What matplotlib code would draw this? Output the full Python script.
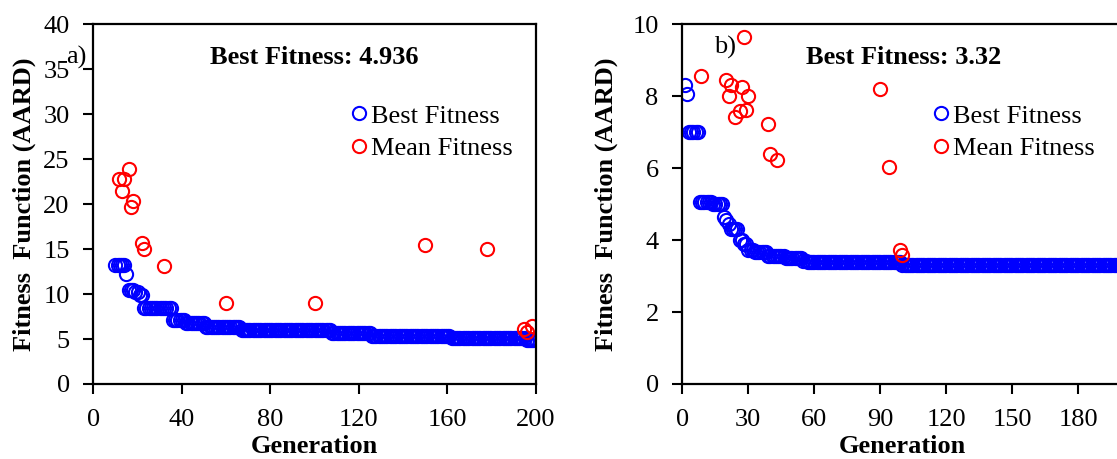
import numpy as np
import matplotlib
matplotlib.use("Agg")
import matplotlib.pyplot as plt

plt.rcParams['font.family'] = ['Liberation Serif', 'DejaVu Serif']

# ---------- Panel a) ----------
a_best_start_gen = 10
a_best_levels = [13.2, 12.2, 10.5, 10.2, 9.9, 8.4, 7.1, 6.8, 6.3, 5.95, 5.65, 5.35, 5.1, 4.936]
a_best_runs   = [5,    1,    3,    2,    2,   13,  6,   9,   16,  41,   18,   36,   34,  5]
a_mean_gen = [11.5, 13.8, 12.8, 16.2, 18.1, 17.0, 21.9, 22.8, 31.9, 60, 100, 150, 178, 194.8, 196, 198.4]
a_mean_val = [22.85, 22.85, 21.5, 23.95, 20.3, 19.67, 15.7, 14.97, 13.1, 9.0, 9.06, 15.5, 15.05, 6.17, 5.8, 6.4]
a_xticks = [0, 40, 80, 120, 160, 200]
a_yticks = [0, 5, 10, 15, 20, 25, 30, 35, 40]

# ---------- Panel b) ----------
b_best_start_gen = 1
b_best_levels = [8.3, 8.05, 7.0, 5.05, 5.0, 4.65, 4.55, 4.45, 4.3, 4.0, 3.88, 3.72, 3.68, 3.55, 3.5, 3.42, 3.38, 3.32]
b_best_runs   = [1,   1,    5,   6,    5,   1,    1,    1,    4,   2,   2,    3,    6,    8,    8,   2,    43,   116]
b_mean_gen = [8.3, 20, 22, 21, 27, 28, 30, 24, 26, 29, 39, 40, 43, 90, 94, 99, 100]
b_mean_val = [8.55, 8.46, 8.32, 8.0, 8.25, 9.64, 8.02, 7.41, 7.6, 7.62, 7.24, 6.4, 6.24, 8.2, 6.04, 3.72, 3.6]
b_xticks = [0, 30, 60, 90, 120, 150, 180]
b_yticks = [0, 2, 4, 6, 8, 10]

W, H = 1117, 459
fig = plt.figure(figsize=(W / 100, H / 100), dpi=100)
FS = 19

def px_axes(left, top, right, bottom):
    return fig.add_axes([left / W, (H - bottom) / H, (right - left) / W, (bottom - top) / H])

def expand(start, levels, runs):
    gens = np.arange(start, start + sum(runs))
    vals = np.repeat(levels, runs)
    return gens, vals

def style(ax, xticks, yticks, xlim, ylim, ylab_x):
    ax.set_xlim(*xlim)
    ax.set_ylim(*ylim)
    ax.set_xticks(xticks)
    ax.set_yticks(yticks)
    ax.tick_params(direction='out', length=7, width=1.5, labelsize=FS)
    ax.tick_params(axis='x', pad=11)
    ax.tick_params(axis='y', pad=10)
    for s in ax.spines.values():
        s.set_linewidth(1.6)
    ax.set_xlabel('Generation', fontsize=FS, fontweight='bold', labelpad=3)
    ax.set_ylabel('Fitness  Function (AARD)', fontsize=FS, fontweight='bold')
    ax.yaxis.set_label_coords(ylab_x, 0.5)

mk = dict(marker='o', linestyle='none', markersize=9.5, markerfacecolor='none', markeredgewidth=1.5)
leg_kw = dict(loc='upper left', frameon=False, fontsize=FS, handletextpad=0.05, borderaxespad=0,
              borderpad=0, labelspacing=0.35, handlelength=0.8)

# Panel a
ax1 = px_axes(93.3, 24.3, 535.7, 384)
g, v = expand(a_best_start_gen, a_best_levels, a_best_runs)
ax1.plot(g, v, color='#0000ff', label='Best Fitness', **mk)
ax1.plot(a_mean_gen, a_mean_val, color='#ff0000', label='Mean Fitness', **mk)
style(ax1, a_xticks, a_yticks, (0, 200), (0, 40), -0.1295)
ax1.text(0.499, 0.908, 'Best Fitness: 4.936', transform=ax1.transAxes, ha='center', va='center',
         fontsize=FS, fontweight='bold')
ax1.text(-0.062, 0.908, 'a)', transform=ax1.transAxes, ha='left', va='center', fontsize=FS)
ax1.legend(bbox_to_anchor=(0.577, 0.778), **leg_kw)

# Panel b
ax2 = px_axes(682.3, 24.3, 682.3 + 440, 384)
g, v = expand(b_best_start_gen, b_best_levels, b_best_runs)
ax2.plot(g, v, color='#0000ff', label='Best Fitness', **mk)
ax2.plot(b_mean_gen, b_mean_val, color='#ff0000', label='Mean Fitness', **mk)
style(ax2, b_xticks, b_yticks, (0, 200), (0, 10), -0.146)
ax2.text(0.504, 0.908, 'Best Fitness: 3.32', transform=ax2.transAxes,
         ha='center', va='center', fontsize=FS, fontweight='bold')
ax2.text(0.072, 0.936, 'b)', transform=ax2.transAxes, ha='left', va='center', fontsize=FS)
ax2.legend(bbox_to_anchor=(0.564, 0.778), **leg_kw)

fig.savefig('out.png', dpi=100)
